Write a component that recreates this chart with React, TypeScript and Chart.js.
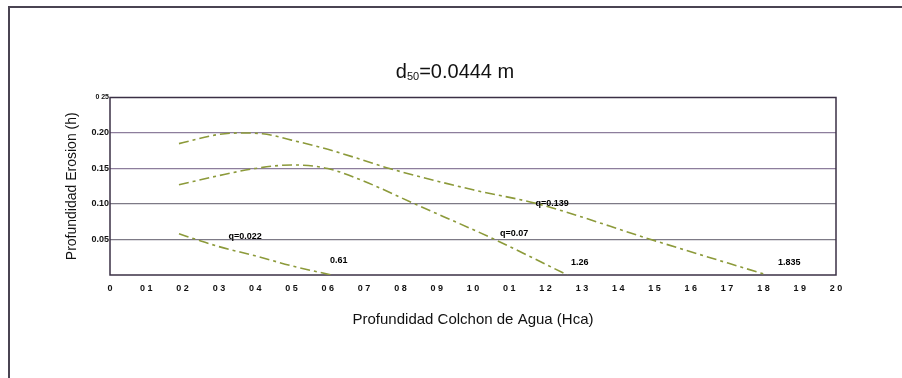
import React, { useEffect, useRef } from "react";
import { Chart, registerables } from "chart.js";

Chart.register(...registerables);

// ---- data ----
const q022X = [0.19, 0.25, 0.3, 0.4, 0.5, 0.61];
const q022Y = [0.058, 0.048, 0.04, 0.027, 0.013, 0.0];

const q07X = [0.19, 0.3, 0.4, 0.5, 0.6, 0.7, 0.84, 1.06, 1.26];
const q07Y = [0.127, 0.14, 0.15, 0.155, 0.15, 0.132, 0.1, 0.05, 0.0];

const q139X = [0.19, 0.3, 0.36, 0.42, 0.5, 0.6, 0.69, 0.77, 1.0, 1.18, 1.49, 1.81];
const q139Y = [0.185, 0.198, 0.2, 0.199, 0.19, 0.177, 0.163, 0.15, 0.12, 0.1, 0.05, 0.0];

const xTickLabels = [
  "0", "0 1", "0 2", "0 3", "0 4", "0 5", "0 6", "0 7", "0 8", "0 9", "1 0",
  "0 1", "1 2", "1 3", "1 4", "1 5", "1 6", "1 7", "1 8", "1 9", "2 0",
];
const yTickLabels = ["", "0.05", "0.10", "0.15", "0.20", "0 25"];

const annotationTexts = ["q=0.022", "0.61", "q=0.07", "1.26", "q=0.139", "1.835"];
const annotationX = [0.372, 0.63, 1.113, 1.294, 1.218, 1.871];
const annotationY = [0.0535, 0.021, 0.058, 0.017, 0.101, 0.017];

const titleMain = "d";
const titleSub = "50";
const titleRest = "=0.0444 m";
const xTitle = "Profundidad Colchon de Agua (Hca)";
const yTitle = "Profundidad Erosion (h)";

const FONT = "'Liberation Sans', Arial, sans-serif";
const LINE_COLOR = "#8c9a3a";

const toPoints = (xs: number[], ys: number[]) => xs.map((x, i) => ({ x, y: ys[i] }));

const decorPlugin = {
  id: "decor",
  beforeDatasetsDraw(chart: any) {
    const { ctx, chartArea } = chart;
    ctx.save();
    ctx.strokeStyle = "#3b3045";
    ctx.lineWidth = 1.5;
    ctx.strokeRect(chartArea.left, chartArea.top, chartArea.right - chartArea.left, chartArea.bottom - chartArea.top);
    ctx.restore();
  },
  afterDraw(chart: any) {
    const { ctx } = chart;
    const xs = chart.scales.x;
    const ys = chart.scales.y;
    ctx.save();
    // outer frame
    ctx.strokeStyle = "#4a4452";
    ctx.lineWidth = 2;
    ctx.beginPath();
    ctx.moveTo(9, 378);
    ctx.lineTo(9, 7);
    ctx.lineTo(902, 7);
    ctx.stroke();

    // title with subscript
    const bigFont = `20px ${FONT}`;
    const subFont = `11px ${FONT}`;
    ctx.fillStyle = "#111";
    ctx.textBaseline = "alphabetic";
    ctx.textAlign = "left";
    ctx.font = bigFont;
    const w1 = ctx.measureText(titleMain).width;
    const w3 = ctx.measureText(titleRest).width;
    ctx.font = subFont;
    const w2 = ctx.measureText(titleSub).width;
    const total = w1 + w2 + w3;
    const x0 = 455 - total / 2;
    const base = 78;
    ctx.font = bigFont;
    ctx.fillText(titleMain, x0, base);
    ctx.font = subFont;
    ctx.fillText(titleSub, x0 + w1, base + 2);
    ctx.font = bigFont;
    ctx.fillText(titleRest, x0 + w1 + w2, base);

    // annotations
    ctx.font = `bold 9px ${FONT}`;
    ctx.textAlign = "center";
    ctx.textBaseline = "middle";
    ctx.fillStyle = "#000";
    annotationTexts.forEach((t, i) => {
      ctx.fillText(t, xs.getPixelForValue(annotationX[i]), ys.getPixelForValue(annotationY[i]));
    });
    ctx.restore();
  },
};

const makeDataset = (label: string, xs: number[], ys: number[]) => ({
  label,
  data: toPoints(xs, ys),
  showLine: true,
  borderColor: LINE_COLOR,
  borderWidth: 1.6,
  borderDash: [10, 4, 3, 4],
  pointRadius: 0,
  fill: false,
  cubicInterpolationMode: "monotone" as const,
});

export default function App() {
  const ref = useRef<HTMLCanvasElement | null>(null);
  useEffect(() => {
    if (!ref.current) return;
    const chart = new Chart(ref.current, {
      type: "scatter",
      data: {
        datasets: [
          makeDataset("q=0.022", q022X, q022Y),
          makeDataset("q=0.07", q07X, q07Y),
          makeDataset("q=0.139", q139X, q139Y),
        ],
      },
      options: {
        animation: false,
        responsive: false,
        layout: { padding: { left: 0, top: 97.5, right: 66, bottom: 0 } },
        plugins: { legend: { display: false }, tooltip: { enabled: false }, title: { display: false } },
        scales: {
          x: {
            type: "linear",
            min: 0,
            max: 2,
            afterFit: (s: any) => { s.height = 103; },
            ticks: {
              stepSize: 0.1,
              autoSkip: false,
              maxRotation: 0,
              padding: 8,
              color: "#111",
              font: { family: FONT, size: 9, weight: "bold" },
              callback: (_v: any, i: number) => xTickLabels[i] ?? "",
            },
            grid: { display: false, drawTicks: false },
            border: { display: false },
            title: {
              display: true,
              text: xTitle,
              color: "#111",
              font: { family: FONT, size: 15 },
              padding: { top: 0, bottom: 49 },
            },
          },
          y: {
            type: "linear",
            min: 0,
            max: 0.25,
            afterFit: (s: any) => { s.width = 110; },
            ticks: {
              stepSize: 0.05,
              padding: 1,
              color: "#111",
              font: (c: any) => (c.index === 5
                ? { family: FONT, size: 7, weight: "bold" }
                : { family: FONT, size: 9, weight: "bold" }),
              callback: (_v: any, i: number) => yTickLabels[i] ?? "",
            },
            grid: {
              drawTicks: false,
              color: (c: any) => (c.index === 0 || c.index === 5
                ? "rgba(0,0,0,0)"
                : c.index <= 2 ? "#7d7a86" : "#8d7e9c"),
              lineWidth: 1.3,
            },
            border: { display: false },
            title: {
              display: true,
              text: yTitle,
              color: "#111",
              font: { family: FONT, size: 14 },
              padding: { top: 63.6, bottom: 0 },
            },
          },
        },
      },
      plugins: [decorPlugin],
    });
    return () => chart.destroy();
  }, []);
  return (
    <div style={{ position: "fixed", left: 0, top: 0, width: 902, height: 378, background: "#fff" }}>
      <canvas ref={ref} width={902} height={378} />
    </div>
  );
}
